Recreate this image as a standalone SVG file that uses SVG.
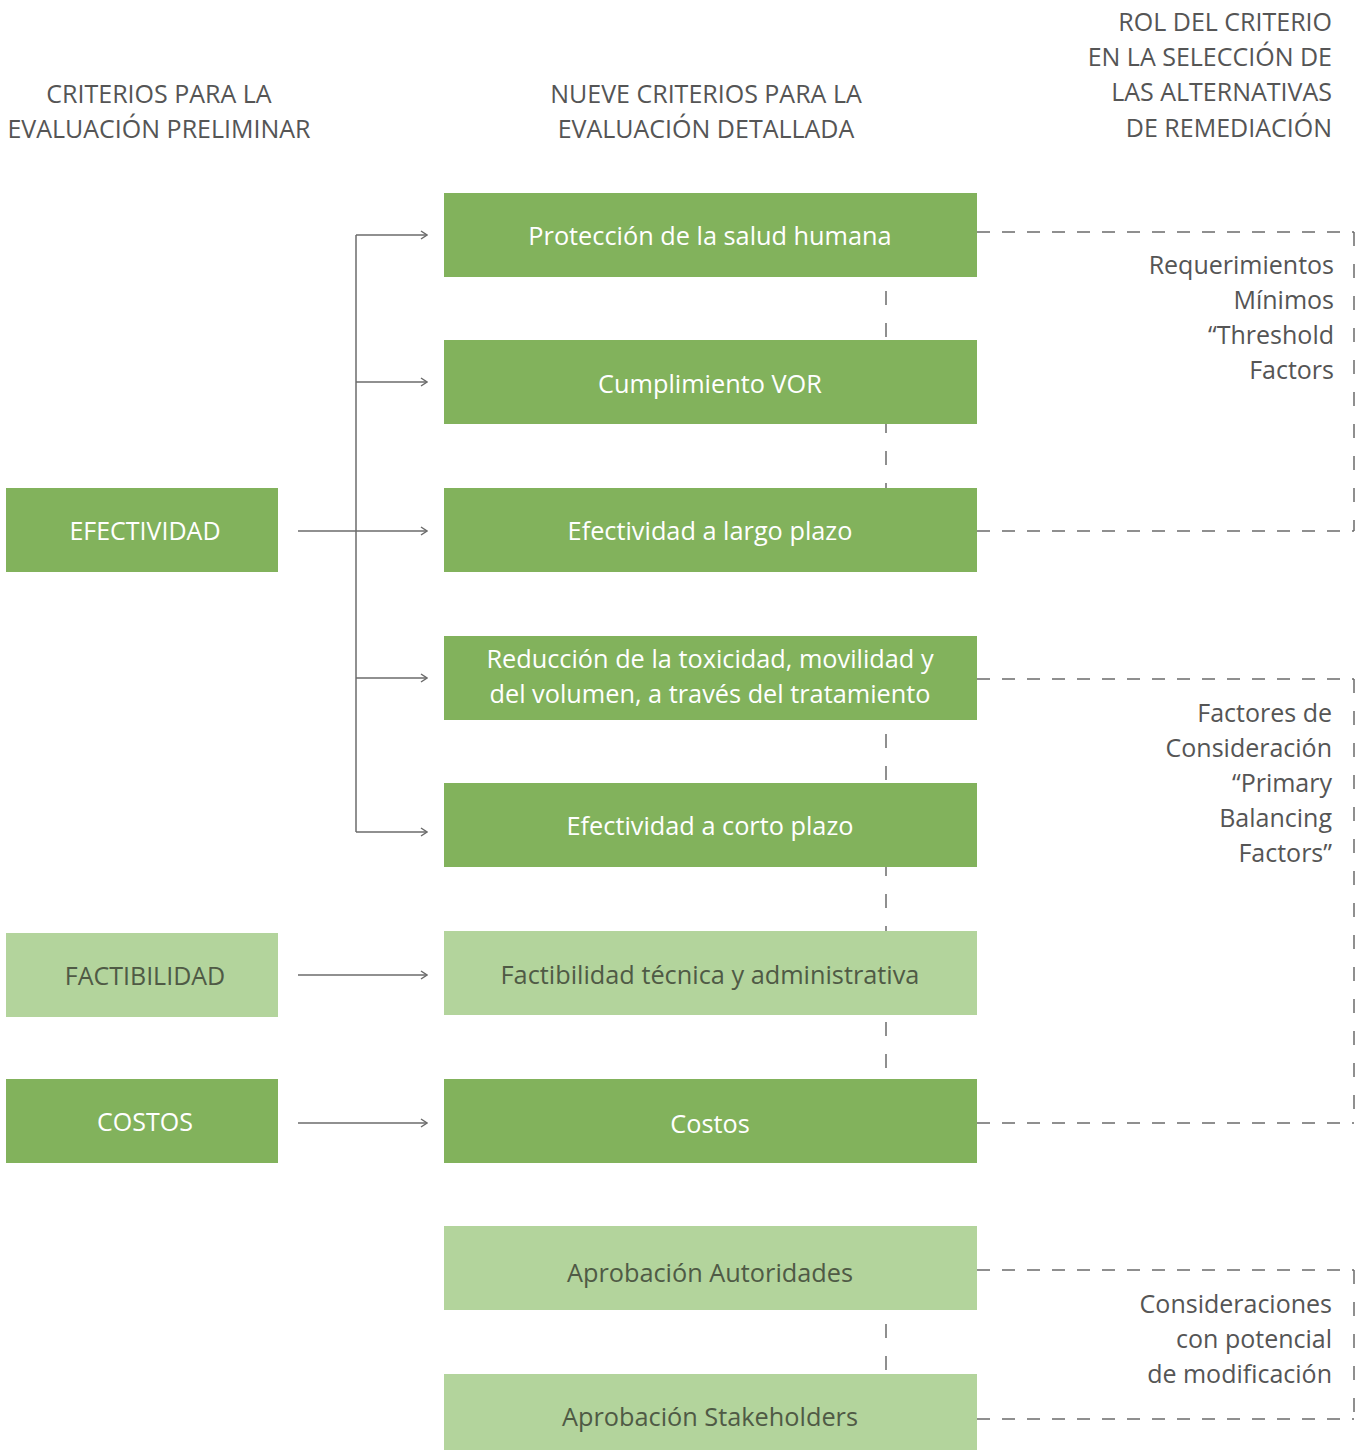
<svg xmlns="http://www.w3.org/2000/svg" width="1356" height="1450" viewBox="0 0 1356 1450">
<style>
text{font-family:"Open Sans","Noto Sans","Liberation Sans",sans-serif;font-size:25px;}
.big{font-size:25.3px;}
.dk{fill:#82b25c;}
.lt{fill:#b3d49c;}
.tw{fill:#ffffff;text-anchor:middle;}
.tg{fill:#4f5a45;text-anchor:middle;}
.hd{fill:#555555;}
.c{text-anchor:middle;}
.r{text-anchor:end;}
.arr{fill:none;stroke:#6b6b6b;stroke-width:1.5;}
.dv{fill:none;stroke:#6b6b6b;stroke-width:1.5;stroke-dasharray:14 18;}
.dm{fill:none;stroke:#6b6b6b;stroke-width:1.5;stroke-dasharray:14 18;stroke-dashoffset:18;}
.dh{fill:none;stroke:#6b6b6b;stroke-width:1.5;stroke-dasharray:13 12;}
</style>
<defs>
<marker id="ah" viewBox="0 0 10 10" refX="9" refY="5" markerWidth="10" markerHeight="10" markerUnits="userSpaceOnUse" orient="auto">
<path d="M3,1 L9,5 L3,9" fill="none" stroke="#6b6b6b" stroke-width="1.5"/>
</marker>
</defs>

<g id="headers">
<text class="hd c" x="159" y="103">CRITERIOS PARA LA</text>
<text class="hd c" x="159" y="138">EVALUACIÓN PRELIMINAR</text>
<text class="hd c" x="706" y="103">NUEVE CRITERIOS PARA LA</text>
<text class="hd c" x="706" y="138">EVALUACIÓN DETALLADA</text>
<text class="hd r" x="1332" y="31">ROL DEL CRITERIO</text>
<text class="hd r" x="1332" y="66">EN LA SELECCIÓN DE</text>
<text class="hd r" x="1332" y="101">LAS ALTERNATIVAS</text>
<text class="hd r" x="1332" y="137">DE REMEDIACIÓN</text>
</g>

<g id="connectors">
<path class="dm" d="M886,277 V488"/>
<path class="dm" d="M886,720 V1079"/>
<path class="dm" d="M886,1310 V1374"/>
<path class="dh" d="M977,232 H1354"/>
<path class="dv" d="M1354,232 V531"/>
<path class="dh" d="M977,531 H1354"/>
<path class="dh" d="M977,679 H1354"/>
<path class="dv" d="M1354,679 V1123"/>
<path class="dh" d="M977,1123 H1354"/>
<path class="dh" d="M977,1270 H1354"/>
<path class="dv" d="M1354,1270 V1419"/>
<path class="dh" d="M977,1419 H1354"/>
<path class="arr" d="M356,235 V832"/>
<path class="arr" d="M298,531 H356"/>
<path class="arr" d="M356,235 H427" marker-end="url(#ah)"/>
<path class="arr" d="M356,382 H427" marker-end="url(#ah)"/>
<path class="arr" d="M356,531 H427" marker-end="url(#ah)"/>
<path class="arr" d="M356,678 H427" marker-end="url(#ah)"/>
<path class="arr" d="M356,832 H427" marker-end="url(#ah)"/>
<path class="arr" d="M298,975 H427" marker-end="url(#ah)"/>
<path class="arr" d="M298,1123 H427" marker-end="url(#ah)"/>
</g>

<g id="n-efectividad"><rect class="dk" x="6" y="488" width="272" height="84"/><text class="tw" x="145" y="540">EFECTIVIDAD</text></g>
<g id="n-factibilidad"><rect class="lt" x="6" y="933" width="272" height="84"/><text class="tg" x="145" y="985">FACTIBILIDAD</text></g>
<g id="n-costos-p"><rect class="dk" x="6" y="1079" width="272" height="84"/><text class="tw" x="145" y="1131">COSTOS</text></g>

<g id="n1"><rect class="dk" x="444" y="193" width="533" height="84"/><text class="tw big" x="710" y="245">Protección de la salud humana</text></g>
<g id="n2"><rect class="dk" x="444" y="340" width="533" height="84"/><text class="tw big" x="710" y="393">Cumplimiento VOR</text></g>
<g id="n3"><rect class="dk" x="444" y="488" width="533" height="84"/><text class="tw big" x="710" y="540">Efectividad a largo plazo</text></g>
<g id="n4"><rect class="dk" x="444" y="636" width="533" height="84"/><text class="tw big" x="710" y="668">Reducción de la toxicidad, movilidad y</text><text class="tw big" x="710" y="703">del volumen, a través del tratamiento</text></g>
<g id="n5"><rect class="dk" x="444" y="783" width="533" height="84"/><text class="tw big" x="710" y="835">Efectividad a corto plazo</text></g>
<g id="n6"><rect class="lt" x="444" y="931" width="533" height="84"/><text class="tg big" x="710" y="984">Factibilidad técnica y administrativa</text></g>
<g id="n7"><rect class="dk" x="444" y="1079" width="533" height="84"/><text class="tw big" x="710" y="1133">Costos</text></g>
<g id="n8"><rect class="lt" x="444" y="1226" width="533" height="84"/><text class="tg big" x="710" y="1282">Aprobación Autoridades</text></g>
<g id="n9"><rect class="lt" x="444" y="1374" width="533" height="76"/><text class="tg big" x="710" y="1426">Aprobación Stakeholders</text></g>

<g id="labels">
<text class="hd r" x="1334" y="274">Requerimientos</text>
<text class="hd r" x="1334" y="309">Mínimos</text>
<text class="hd r" x="1334" y="344">“Threshold</text>
<text class="hd r" x="1334" y="379">Factors</text>
<text class="hd r" x="1332" y="722">Factores de</text>
<text class="hd r" x="1332" y="757">Consideración</text>
<text class="hd r" x="1332" y="792">“Primary</text>
<text class="hd r" x="1332" y="827">Balancing</text>
<text class="hd r" x="1332" y="862">Factors”</text>
<text class="hd r" x="1332" y="1313">Consideraciones</text>
<text class="hd r" x="1332" y="1348">con potencial</text>
<text class="hd r" x="1332" y="1383">de modificación</text>
</g>
</svg>
